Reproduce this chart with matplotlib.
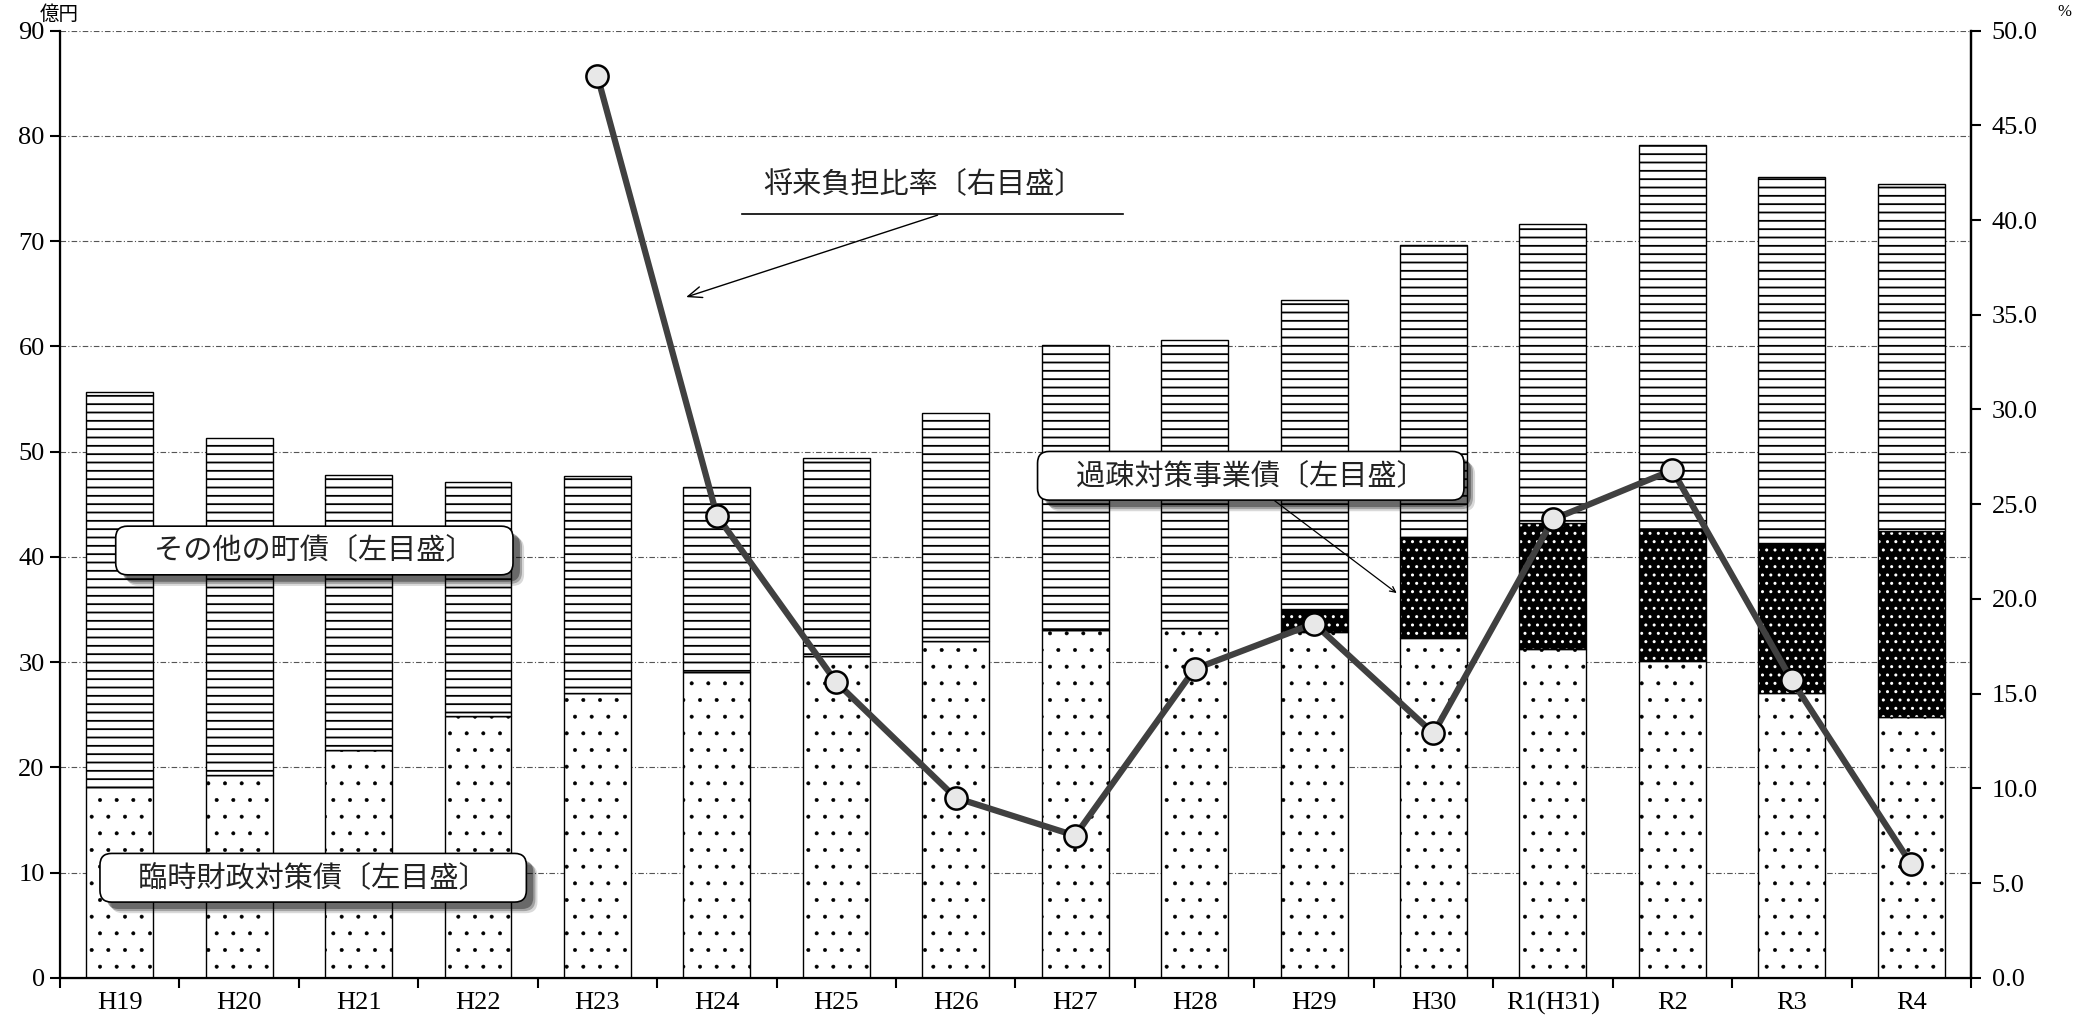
import numpy as np
import matplotlib
matplotlib.use("Agg")
import matplotlib.pyplot as plt
import matplotlib.patheffects as pe

plt.rcParams['font.family'] = ['Liberation Serif', 'Noto Sans CJK JP']

# データ（億円、%）
years = ["H19", "H20", "H21", "H22", "H23", "H24", "H25", "H26",
         "H27", "H28", "H29", "H30", "R1(H31)", "R2", "R3", "R4"]
rinji = [18.1, 19.3, 21.6, 24.9, 27.1, 29.1, 30.6, 32.0,
         33.0, 33.2, 32.9, 32.3, 31.2, 30.1, 27.1, 24.8]
kaso = [0, 0, 0, 0, 0, 0, 0, 0,
        0, 0, 2.1, 9.5, 12.0, 12.5, 14.2, 17.7]
sonota = [37.6, 32.0, 26.2, 22.2, 20.6, 17.5, 18.8, 21.7,
          27.1, 27.4, 29.4, 27.8, 28.4, 36.5, 34.8, 32.9]
futan = [np.nan, np.nan, np.nan, np.nan, 47.6, 24.4, 15.6, 9.5,
         7.5, 16.3, 18.7, 12.9, 24.2, 26.8, 15.7, 6.0]

x = np.arange(len(years))
rinji = np.array(rinji)
kaso = np.array(kaso)
sonota = np.array(sonota)
w = 0.56

fig = plt.figure(figsize=(20.89, 10.19), dpi=100)
ax = fig.add_axes([0.0287, 0.0405, 0.9148, 0.9294])

ax.set_axisbelow(True)
ax.yaxis.grid(True, color='#555555', lw=0.8, linestyle=(0, (5, 2, 1, 2)))

# 臨時財政対策債（点）
plt.rcParams['hatch.linewidth'] = 0.4
ax.bar(x, rinji, w, color='white', edgecolor='black', hatch='.', lw=1.0, zorder=2)
# 過疎対策事業債
plt.rcParams['hatch.linewidth'] = 1.0
ax.bar(x, kaso, w, bottom=rinji, color='black', edgecolor='white', hatch='..', lw=0, zorder=2)
ax.bar(x, kaso, w, bottom=rinji, fill=False, edgecolor='black', lw=1.0, zorder=2)
# その他の町債（横線）
plt.rcParams['hatch.linewidth'] = 1.3
ax.bar(x, sonota, w, bottom=rinji + kaso, color='white', edgecolor='black', hatch='--', lw=1.0, zorder=2)

ax.set_xlim(-0.5, len(years) - 0.5)
ax.set_ylim(0, 90)
ax.set_yticks(np.arange(0, 91, 10))
ax.set_xticks(np.arange(-0.5, len(years), 1))
ax.set_xticklabels([])
ax.set_xticks(x, minor=True)
ax.set_xticklabels(years, minor=True)
ax.tick_params(axis='x', which='major', direction='out', length=7, width=1.5)
ax.tick_params(axis='x', which='minor', length=0, pad=10, labelsize=19)
ax.tick_params(axis='y', direction='out', length=7, width=1.5, labelsize=19, pad=4)
ax.spines['top'].set_visible(False)
for s in ['left', 'bottom', 'right']:
    ax.spines[s].set_linewidth(1.6)

# 将来負担比率（右目盛）
ax2 = ax.twinx()
ax2.set_ylim(0, 50)
ax2.set_yticks(np.arange(0, 51, 5))
ax2.set_yticklabels([f"{v:.1f}" for v in np.arange(0, 51, 5)])
ax2.tick_params(axis='y', direction='out', length=7, width=1.5, labelsize=19, pad=8)
ax2.spines['top'].set_visible(False)
ax2.spines['right'].set_linewidth(1.6)
ax2.plot(x, futan, color='#404040', lw=4.5, marker='o', ms=16,
         markerfacecolor='#e8e8e8', markeredgecolor='black', markeredgewidth=1.8, zorder=5)

fig.text(0.019, 0.986, "億円", fontsize=14, family=['Noto Sans CJK JP'], va='center')
fig.text(0.985, 0.988, "%", fontsize=12, va='center')

# 吹き出し
shadow = [pe.SimplePatchShadow(offset=(8, -8), shadow_rgbFace='black', alpha=0.15),
          pe.SimplePatchShadow(offset=(6.5, -6.5), shadow_rgbFace='black', alpha=0.25),
          pe.SimplePatchShadow(offset=(5, -5), shadow_rgbFace='black', alpha=0.35),
          pe.Normal()]

def label_box(xd, yd, txt):
    t = ax.text(xd, yd, "\u3000" + txt + "\u3000", ha='center', va='center', fontsize=21,
                family=['Noto Sans CJK JP'], color='#222222', zorder=7,
                bbox=dict(boxstyle='round,pad=0.32,rounding_size=0.4', fc='white',
                          ec='black', lw=1.2))
    t.get_bbox_patch().set_path_effects(shadow)

label_box(1.63, 40.6, "その他の町債〔左目盛〕")
label_box(1.62, 9.5, "臨時財政対策債〔左目盛〕")
label_box(9.47, 47.7, "過疎対策事業債〔左目盛〕")
ax.annotate("", xy=(10.71, 36.4), xytext=(9.65, 45.5),
            arrowprops=dict(arrowstyle='->', color='black', lw=0.9), zorder=6)

ax.text(6.73, 75.4, "将来負担比率〔右目盛〕", ha='center', va='center', fontsize=21,
        family=['Noto Sans CJK JP'], color='#222222', zorder=7)
ax.plot([5.21, 8.40], [72.55, 72.55], color='black', lw=1.2, zorder=7)
ax.annotate("", xy=(4.72, 64.6), xytext=(6.87, 72.55),
            arrowprops=dict(arrowstyle='->,head_length=1.0,head_width=0.4', color='black', lw=1.0), zorder=7)

fig.savefig("out.png", dpi=100)
